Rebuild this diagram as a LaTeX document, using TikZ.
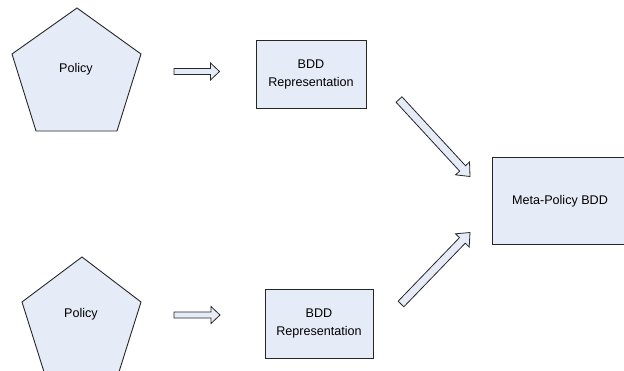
\documentclass[tikz,border=0pt]{standalone}
\usepackage{fontspec}
\setmainfont{Liberation Sans}
\usetikzlibrary{calc}

\definecolor{shapefill}{HTML}{E6ECF7}
\definecolor{edgeline}{HTML}{262626}

% Block arrow from #4 (tail) to #5 (tip):
% #1 shaft half-width, #2 head half-width, #3 head length
\newcommand\blockarrow[5]{%
  \path ($(#5)!#3!(#4)$) coordinate (ba-base);
  \draw[arrowbody]
    ($(#4)!#1!90:(#5)$) -- ($(ba-base)!#1!-90:(#4)$) --
    ($(ba-base)!#2!-90:(#4)$) -- (#5) --
    ($(ba-base)!#2!90:(#4)$) -- ($(ba-base)!#1!90:(#4)$) --
    ($(#4)!#1!-90:(#5)$) -- cycle;
}

\tikzset{
  shapebody/.style={draw=edgeline, fill=shapefill, line width=0.9pt, line join=miter},
  arrowbody/.style={draw=edgeline, fill=shapefill, line width=0.8pt, line join=miter},
  label/.style={font=\fontsize{12.6}{18}\selectfont, align=center, inner sep=0pt},
  boxnode/.style={shapebody, rectangle, label, inner sep=0pt},
}

\begin{document}
\begin{tikzpicture}[x=1pt, y=-1pt]
  \useasboundingbox (0,0) rectangle (624,371);
  \clip (0,0) rectangle (624,371);

  % upper policy pentagon
  \draw[shapebody] (77,8) -- (141,54) -- (117,131) -- (36,131) -- (12,54) -- cycle;
  \node[label] (policyA) at (76,69) {Policy};

  % lower policy pentagon (runs off the bottom edge)
  \draw[shapebody] (82,257) -- (141,302) -- (118,375) -- (45,375) -- (22,302) -- cycle;
  \node[label] (policyB) at (81,314) {Policy};

  % BDD boxes
  \node[boxnode, minimum width=110pt, minimum height=68pt] (bddA) at (311,74) {BDD\\Representation};
  \node[boxnode, minimum width=108pt, minimum height=69pt] (bddB) at (319,323.5) {BDD\\Representation};

  % meta-policy box (runs off the right edge)
  \draw[shapebody] (492,157) rectangle (640,244);
  \node[label] (meta) at (560,201) {Meta-Policy BDD};

  % arrow end points
  \coordinate (a1s) at (174,71.5);
  \coordinate (a1e) at (219.5,71.5);
  \coordinate (a2s) at (174,315);
  \coordinate (a2e) at (220,315);
  \coordinate (a3s) at (399,99.5);
  \coordinate (a3e) at (470,176.5);
  \coordinate (a4s) at (401,304);
  \coordinate (a4e) at (470,232.5);

  \blockarrow{3pt}{8.5pt}{9pt}{a1s}{a1e}
  \blockarrow{3pt}{8.5pt}{9pt}{a2s}{a2e}
  \blockarrow{4pt}{9.5pt}{11pt}{a3s}{a3e}
  \blockarrow{4pt}{9.5pt}{11pt}{a4s}{a4e}
\end{tikzpicture}
\end{document}
